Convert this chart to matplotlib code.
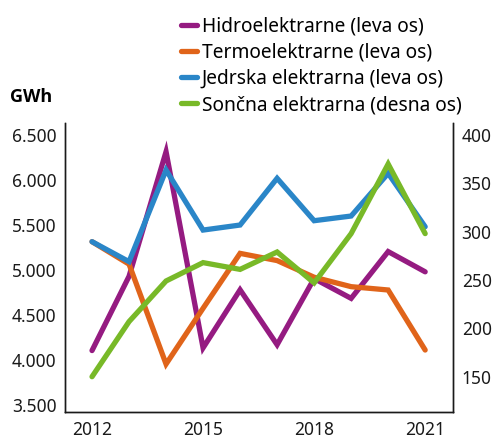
import matplotlib
matplotlib.use("Agg")
import matplotlib.pyplot as plt
from matplotlib.ticker import FuncFormatter

plt.rcParams['font.family'] = ['Noto Sans', 'DejaVu Sans']

years = [2012, 2013, 2014, 2015, 2016, 2017, 2018, 2019, 2020, 2021]
hidro = [4105, 4930, 6315, 4135, 4780, 4170, 4905, 4685, 5205, 4980]
termo = [5315, 5065, 3955, 4575, 5185, 5105, 4920, 4815, 4778, 4111]
jedrska = [5315, 5093, 6111, 5444, 5500, 6019, 5548, 5600, 6074, 5481]
soncna = [150, 207, 249, 268, 261, 279, 247, 298, 370, 298]

labels = ['Hidroelektrarne (leva os)', 'Termoelektrarne (leva os)',
          'Jedrska elektrarna (leva os)', 'Sončna elektrarna (desna os)']
colors = ['#951b81', '#e0641a', '#2a86c8', '#78b928']

fig = plt.figure(figsize=(4.93, 4.42), dpi=100)
ax = fig.add_axes([65/493, 1 - 412.3/442, (453.3 - 65)/493, (412.3 - 122.7)/442])
ax2 = ax.twinx()

lw = 3.8
lines = []
for data, c in zip([hidro, termo, jedrska], colors[:3]):
    l, = ax.plot(years, data, color=c, lw=lw, solid_capstyle='round', solid_joinstyle='miter')
    lines.append(l)
l, = ax2.plot(years, soncna, color=colors[3], lw=lw, solid_capstyle='round', solid_joinstyle='miter')
lines.append(l)

ax.set_xlim(2011.27, 2021.76)
ax.set_ylim(3419, 6637)
ax2.set_ylim(113.2, 412.7)
ax.set_xticks([2012, 2015, 2018, 2021])
ax.set_yticks([3500, 4000, 4500, 5000, 5500, 6000, 6500])
ax2.set_yticks([150, 200, 250, 300, 350, 400])
ax.yaxis.set_major_formatter(FuncFormatter(lambda v, p: f"{int(v):,}".replace(',', '.')))

for a in (ax, ax2):
    a.spines['top'].set_visible(False)
    a.tick_params(length=0, labelsize=12.5, colors='#1a1a1a', pad=6)
    for s in a.spines.values():
        s.set_linewidth(1.0)
        s.set_color('#1a1a1a')
ax.tick_params(axis='x', pad=6)

fig.text(10/493, 1 - 97/442, 'GWh', fontsize=13, fontweight='bold',
         family=['Open Sans', 'DejaVu Sans'], va='center', ha='left')

fig.legend(lines, labels, loc='upper left', bbox_to_anchor=(173/493, 1 - 9/442),
           frameon=False, fontsize=13.8, handlelength=0.85, handletextpad=0.25,
           labelspacing=0.32, borderaxespad=0)

fig.savefig('out.png', dpi=100)
